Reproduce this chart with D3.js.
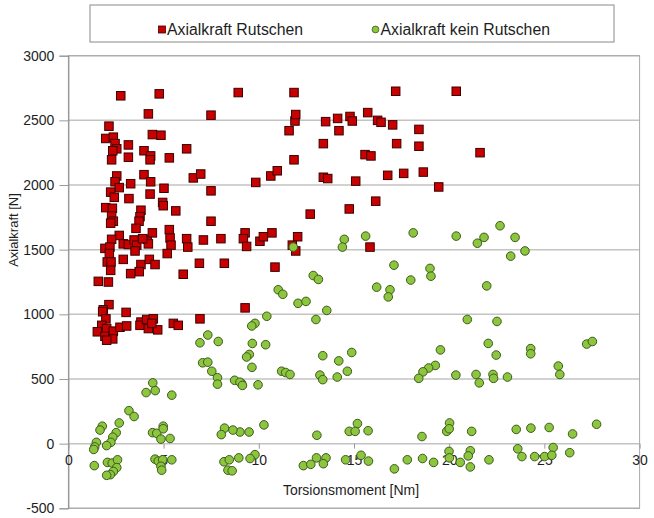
<!DOCTYPE html>
<html>
<head>
<meta charset="utf-8">
<script src="https://cdn.jsdelivr.net/npm/d3@7"></script>
<style>
  body { margin: 0; background: #fff; }
  svg { display: block; font-family: "Liberation Sans", Arial, sans-serif; }
</style>
</head>
<body>
<svg id="chart" width="654" height="518"></svg>
<script>
// Axis ticks and series names
const xTicks = [0, 5, 10, 15, 20, 25, 30];
const yTicks = [-500, 0, 500, 1000, 1500, 2000, 2500, 3000];
const seriesNames = ["Axialkraft Rutschen", "Axialkraft kein Rutschen"];
const xTitle = "Torsionsmoment [Nm]";
const yTitle = "Axialkraft [N]";

// Series 1: slipping (torque [Nm], axial force [N])
const slipTorque = [
  2.75, 4.77, 8.92, 4.20, 7.49, 2.13, 1.96, 2.36, 2.45, 2.54, 2.33, 2.27, 3.15, 3.15, 4.41, 4.86,
  3.97, 4.32, 4.29, 5.30, 6.21, 2.54, 2.45, 2.67, 2.22, 2.41, 3.27, 3.97, 4.32, 5.02, 4.29, 3.18,
  6.56, 6.95, 7.49, 9.84, 1.96, 2.31, 2.27, 2.36, 2.22, 3.81, 3.76, 3.71, 4.95, 4.98, 5.64, 7.49,
  3.55, 2.67, 2.27, 1.92, 2.18, 2.15, 2.04, 2.24, 2.22, 2.88, 3.15, 3.45, 3.59, 3.50, 4.14, 4.20,
  4.41, 3.90, 5.30, 5.34, 5.39, 5.19, 6.21, 6.27, 7.09, 8.01, 9.28, 9.19, 9.36, 10.06, 2.88, 3.81,
  4.25, 4.55, 3.72, 3.27, 6.88, 8.19, 6.03, 1.57, 2.10, 10.24, 10.69, 12.04, 11.76, 11.94, 15.84, 10.85,
  12.70, 14.75, 16.14, 10.63, 10.97, 11.85, 13.39, 13.62, 15.09, 16.77, 17.61, 18.64, 19.45, 15.58, 15.89, 13.39,
  17.24, 18.41, 21.62, 11.59, 11.90, 11.94, 13.51, 14.14, 14.79, 14.91, 14.21, 15.72, 16.24, 16.42, 17.03, 18.41,
  11.85, 17.19, 20.37, 2.13, 1.83, 1.80, 1.97, 1.75, 1.52, 2.01, 1.92, 2.36, 2.33, 2.01, 2.71, 3.06,
  3.03, 3.81, 3.76, 4.11, 4.46, 4.20, 4.69, 4.38, 5.51, 5.77, 6.91, 9.28
];
const slipForce = [
  2690, 2705, 2715, 2550, 2540, 2455, 2360, 2370, 2320, 2280, 2265, 2195, 2310, 2215, 2390, 2385,
  2265, 2225, 2195, 2210, 2280, 2070, 2025, 1980, 1945, 1905, 2010, 2080, 2025, 1975, 1930, 1895,
  2055, 2085, 1955, 2020, 1825, 1820, 1760, 1720, 1705, 1805, 1755, 1720, 1865, 1840, 1800, 1720,
  1665, 1610, 1580, 1510, 1520, 1470, 1405, 1405, 1340, 1545, 1540, 1575, 1535, 1490, 1580, 1545,
  1630, 1585, 1655, 1590, 1535, 1470, 1585, 1520, 1575, 1585, 1630, 1585, 1525, 1565, 1425, 1385,
  1425, 1385, 1330, 1315, 1395, 1395, 1310, 1255, 1250, 1600, 1630, 1600, 1535, 1490, 1520, 1365,
  1775, 1815, 1875, 2070, 2110, 2195, 2060, 2050, 2030, 2075, 2090, 2100, 1985, 2235, 2225, 2320,
  2320, 2300, 2250, 2420, 2495, 2545, 2490, 2515, 2530, 2495, 2420, 2560, 2500, 2485, 2465, 2430,
  2715, 2725, 2725, 1075, 1035, 1020, 965, 915, 865, 890, 830, 870, 810, 800, 900, 910,
  1015, 940, 915, 960, 965, 890, 880, 930, 930, 915, 965, 1050
];

// Series 2: no slipping (torque [Nm], axial force [N])
const holdTorque = [
  11.81, 14.49, 14.39, 15.61, 18.11, 20.37, 21.48, 21.83, 22.67, 23.46, 23.23, 23.98, 17.10, 18.99, 19.04, 17.98,
  12.86, 13.13, 21.97, 16.19, 16.89, 16.80, 11.02, 11.26, 12.06, 12.48, 13.57, 13.00, 10.42, 9.80, 9.63, 20.95,
  22.51, 9.66, 10.36, 9.50, 9.36, 9.64, 13.36, 14.20, 14.88, 14.12, 14.65, 11.20, 11.41, 11.64, 13.21, 13.36,
  9.96, 9.10, 19.54, 19.27, 18.92, 18.62, 18.40, 20.35, 21.41, 21.58, 22.05, 22.47, 22.30, 22.33, 23.06, 24.28,
  24.28, 27.22, 27.52, 25.73, 25.81, 10.27, 9.49, 9.01, 13.05, 14.75, 15.18, 15.06, 15.74, 18.57, 20.02, 19.87,
  20.00, 21.18, 23.52, 24.29, 25.25, 26.48, 27.74, 9.80, 9.54, 12.34, 12.73, 13.03, 13.53, 13.39, 14.56, 15.37,
  15.76, 17.12, 17.80, 18.60, 19.18, 19.99, 20.01, 20.58, 21.11, 21.00, 21.11, 22.09, 23.60, 23.82, 24.49, 25.01,
  25.46, 25.39, 26.33, 7.32, 6.91, 7.87, 7.05, 7.32, 7.53, 7.83, 7.83, 8.73, 9.01, 9.14, 4.43, 4.08,
  4.56, 5.43, 3.18, 3.45, 1.78, 1.66, 2.67, 2.51, 2.33, 2.23, 2.01, 1.47, 1.38, 1.33, 4.42, 4.64,
  4.98, 4.98, 4.86, 5.34, 8.20, 8.03, 8.64, 1.36, 2.05, 2.30, 2.58, 2.54, 2.36, 2.20, 2.01, 4.55,
  4.72, 4.95, 5.43, 4.86, 4.90, 8.17, 8.45, 8.95, 8.38, 8.60
];
const holdForce = [
  1520, 1580, 1520, 1605, 1630, 1605, 1550, 1595, 1685, 1595, 1450, 1490, 1380, 1355, 1295, 1265,
  1300, 1270, 1220, 1210, 1190, 1135, 1190, 1155, 1085, 1100, 1030, 960, 985, 930, 910, 960,
  945, 775, 765, 690, 670, 590, 680, 640, 705, 515, 560, 560, 550, 535, 530, 495,
  455, 465, 725, 605, 585, 555, 505, 530, 535, 470, 775, 685, 535, 505, 515, 735,
  695, 770, 790, 600, 535, 145, 90, 90, 65, 95, 155, 95, 100, 55, 160, 95,
  115, 95, 110, 120, 125, 75, 150, -85, -115, -170, -160, -110, -110, -155, -125, -90,
  -135, -195, -125, -115, -145, -60, -110, -145, -55, -95, -180, -125, -40, -100, -100, -100,
  -30, -90, -70, 840, 780, 790, 625, 630, 560, 510, 460, 490, 475, 450, 470, 395,
  410, 375, 255, 210, 135, 105, 160, 85, 50, 10, -15, 10, -25, -45, 85, 80,
  135, 115, 35, 40, 120, 70, 105, -170, -145, -150, -125, -185, -215, -240, -245, -120,
  -135, -125, -125, -175, -205, -140, -125, -110, -205, -210
];

const slipPoints = slipTorque.map((t, i) => ({ t, f: slipForce[i] }));
const holdPoints = holdTorque.map((t, i) => ({ t, f: holdForce[i] }));

const svg = d3.select("#chart");
const textColor = "#1e1e1e";
const fontStack = "'Liberation Sans', Arial, sans-serif";
// plain hyphen for negative tick values
const plainNumber = d => String(d);

const x = d3.scaleLinear().domain([0, 30]).range([68.4, 639.6]);
const y = d3.scaleLinear().domain([-500, 3000]).range([508.3, 55.7]);

// Horizontal gridlines
svg.append("g")
  .selectAll("line")
  .data(yTicks)
  .join("line")
  .attr("x1", x(0)).attr("x2", x(30))
  .attr("y1", d => y(d)).attr("y2", d => y(d))
  .attr("stroke", "#c3c3c3")
  .attr("stroke-width", 1.5);

// Plot frame
svg.append("rect")
  .attr("x", x(0)).attr("y", y(3000))
  .attr("width", x(30) - x(0)).attr("height", y(-500) - y(3000))
  .attr("fill", "none")
  .attr("stroke", "#a8a8a8")
  .attr("stroke-width", 1);

// Y axis
const yAxis = svg.append("g")
  .attr("transform", `translate(${x(0)},0)`)
  .call(d3.axisLeft(y).tickValues(yTicks).tickSize(9).tickPadding(5).tickFormat(plainNumber));
yAxis.select(".domain").attr("stroke", "#8c8c8c");
yAxis.selectAll(".tick line").attr("stroke", "#9a9a9a");
yAxis.selectAll("text")
  .attr("fill", textColor)
  .style("font-size", "14px")
  .style("font-family", fontStack);

// X axis crossing at zero force
const xAxis = svg.append("g")
  .attr("transform", `translate(0,${y(0)})`)
  .call(d3.axisBottom(x).tickValues(xTicks).tickSize(5).tickPadding(6).tickFormat(plainNumber));
xAxis.select(".domain").remove();
xAxis.selectAll(".tick line").attr("stroke", "#9a9a9a");
xAxis.selectAll("text")
  .attr("fill", textColor)
  .style("font-size", "14px")
  .style("font-family", fontStack);

// Axis titles
svg.append("text")
  .attr("x", 351).attr("y", 495)
  .attr("text-anchor", "middle")
  .attr("fill", textColor)
  .style("font-size", "14px")
  .text(xTitle);

svg.append("text")
  .attr("transform", "translate(18,230) rotate(-90)")
  .attr("text-anchor", "middle")
  .attr("fill", textColor)
  .style("font-size", "13px")
  .text(yTitle);

// Series 1: red squares
const sq = 8.5;
svg.append("g")
  .selectAll("rect")
  .data(slipPoints)
  .join("rect")
  .attr("x", d => x(d.t) - sq / 2)
  .attr("y", d => y(d.f) - sq / 2)
  .attr("width", sq).attr("height", sq)
  .attr("fill", "#c80000")
  .attr("stroke", "#3d0000")
  .attr("stroke-width", 1);

// Series 2: green circles
svg.append("g")
  .selectAll("circle")
  .data(holdPoints)
  .join("circle")
  .attr("cx", d => x(d.t))
  .attr("cy", d => y(d.f))
  .attr("r", 4.3)
  .attr("fill", "#8cc63e")
  .attr("stroke", "#3e5a1c")
  .attr("stroke-width", 1);

// Legend
const legend = svg.append("g");
legend.append("rect")
  .attr("x", 90).attr("y", 5).attr("width", 524).attr("height", 37)
  .attr("fill", "#fff").attr("stroke", "#8a8a8a").attr("stroke-width", 1);
legend.append("rect")
  .attr("x", 158.5).attr("y", 26).attr("width", 7).attr("height", 7)
  .attr("fill", "#c80000").attr("stroke", "#3d0000").attr("stroke-width", 0.8);
legend.append("text")
  .attr("x", 167).attr("y", 34.5)
  .attr("fill", textColor).style("font-size", "15.8px")
  .text(seriesNames[0]);
legend.append("circle")
  .attr("cx", 375.5).attr("cy", 29.5).attr("r", 3.4)
  .attr("fill", "#8cc63e").attr("stroke", "#3e5a1c").attr("stroke-width", 0.8);
legend.append("text")
  .attr("x", 380.5).attr("y", 34.5)
  .attr("fill", textColor).style("font-size", "15.8px")
  .text(seriesNames[1]);
</script>
</body>
</html>
